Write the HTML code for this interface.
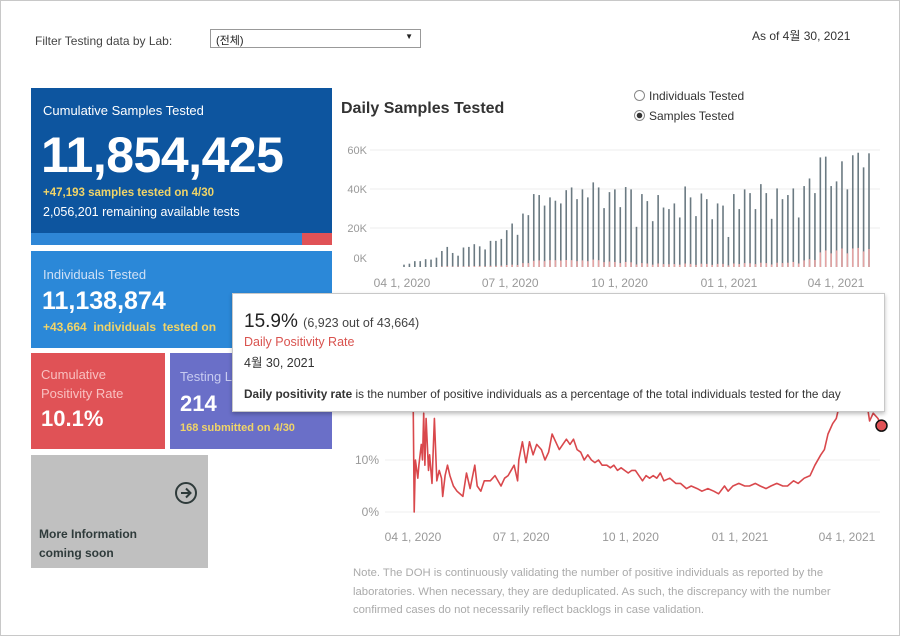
<!DOCTYPE html>
<html><head><meta charset="utf-8">
<style>
*{box-sizing:border-box;margin:0;padding:0}
body{width:900px;height:636px;overflow:hidden;background:#fff;font-family:"Liberation Sans","Noto Sans CJK KR",sans-serif;position:relative}
.abs{position:absolute;white-space:nowrap}
#frame{position:absolute;left:0;top:0;width:900px;height:636px;border:1px solid #c8c8c8}
.card{position:absolute}
</style></head><body>
<div id="frame"></div>

<div class="abs" style="left:35px;top:34px;font-size:12px;color:#444">Filter Testing data by Lab:</div>
<div class="abs" style="left:210px;top:29px;width:211px;height:19px;border:1px solid #999;background:#fff;font-size:11px;color:#222;padding:2px 5px">(전체)<span style="position:absolute;right:7px;top:2px;font-size:8px">▼</span></div>
<div class="abs" style="left:752px;top:27px;font-size:12px;color:#333">As of 4월 30, 2021</div>

<div class="card" style="left:31px;top:88px;width:301px;height:157px;background:#0d559f">
  <div class="abs" style="left:12px;top:15px;font-size:13px;color:#fff">Cumulative Samples Tested</div>
  <div class="abs" style="left:10px;top:38px;font-size:50px;font-weight:bold;color:#fff;letter-spacing:-0.5px">11,854,425</div>
  <div class="abs" style="left:12px;top:99px;font-size:11.5px;font-weight:bold;color:#f0d468">+47,193 samples tested on 4/30</div>
  <div class="abs" style="left:12px;top:117px;font-size:12.5px;color:#fff">2,056,201 remaining available tests</div>
  <div class="abs" style="left:0;top:145px;width:271px;height:12px;background:#2e86d6"></div>
  <div class="abs" style="left:271px;top:145px;width:30px;height:12px;background:#e05256"></div>
</div>

<div class="card" style="left:31px;top:251px;width:301px;height:97px;background:#2b88d8">
  <div class="abs" style="left:12px;top:16px;font-size:13px;color:#cfe0f5">Individuals Tested</div>
  <div class="abs" style="left:11px;top:36px;font-size:25px;font-weight:bold;color:#fff">11,138,874</div>
  <div class="abs" style="left:12px;top:69px;font-size:12px;font-weight:bold;color:#f0d468">+43,664&nbsp; individuals&nbsp; tested on</div>
</div>

<div class="card" style="left:31px;top:353px;width:134px;height:96px;background:#e05256">
  <div class="abs" style="left:10px;top:12px;font-size:13px;color:#f8c0c0;line-height:19px">Cumulative<br>Positivity Rate</div>
  <div class="abs" style="left:10px;top:53px;font-size:22px;font-weight:bold;color:#fff">10.1%</div>
</div>

<div class="card" style="left:170px;top:353px;width:162px;height:96px;background:#6a6fc8">
  <div class="abs" style="left:10px;top:16px;font-size:13px;color:#c8cbf0">Testing Labs</div>
  <div class="abs" style="left:10px;top:38px;font-size:22px;font-weight:bold;color:#fff">214</div>
  <div class="abs" style="left:10px;top:69px;font-size:11px;font-weight:bold;color:#f0d468">168 submitted on 4/30</div>
</div>

<div class="card" style="left:31px;top:455px;width:177px;height:113px;background:#c0c0c0">
  <svg class="abs" style="left:143px;top:26px" width="24" height="24"><circle cx="12" cy="12" r="10" fill="none" stroke="#2f3b3b" stroke-width="2"/><path d="M7 12h9M12 7.5l4.5 4.5-4.5 4.5" fill="none" stroke="#2f3b3b" stroke-width="2"/></svg>
  <div class="abs" style="left:8px;top:70px;font-size:12px;font-weight:bold;color:#2f3b3b;line-height:19px">More Information<br>coming soon</div>
</div>

<div class="abs" style="left:341px;top:100px;font-size:16px;font-weight:bold;color:#333">Daily Samples Tested</div>
<div class="abs" style="left:634px;top:86px;font-size:12px;color:#333;line-height:20px">
  <div><span style="display:inline-block;width:11px;height:11px;border:1px solid #888;border-radius:50%;vertical-align:-1px;margin-right:4px"></span>Individuals Tested</div>
  <div><span style="display:inline-block;width:11px;height:11px;border:1px solid #888;border-radius:50%;vertical-align:-1px;margin-right:4px;background:radial-gradient(circle,#333 2.5px,#fff 3px)"></span>Samples Tested</div>
</div>

<svg id="bars" class="abs" style="left:0;top:0" width="900" height="636"></svg>

<div class="abs" style="left:232px;top:293px;width:653px;height:119px;background:#fff;border:1px solid #c8c8c8;box-shadow:0 2px 4px rgba(0,0,0,.25);overflow:hidden">
  <div class="abs" style="left:11px;top:17px;font-size:19px;color:#222">15.9% <span style="font-size:12.5px;color:#444">(6,923 out of 43,664)</span></div>
  <div class="abs" style="left:11px;top:41px;font-size:12.5px;color:#d9534f">Daily Positivity Rate</div>
  <div class="abs" style="left:11px;top:58px;font-size:12.5px;color:#333">4월 30, 2021</div>
  <div class="abs" style="left:11px;top:93px;font-size:11.8px;color:#333"><b>Daily positivity rate</b> is the number of positive individuals as a percentage of the total individuals tested for the day</div>
</div>

<div class="abs" style="left:353px;top:564px;width:530px;overflow:hidden;font-size:11.3px;color:#aaa;line-height:18.5px">Note. The DOH is continuously validating the number of positive individuals as reported by the<br>laboratories. When necessary, they are deduplicated. As such, the discrepancy with the number<br>confirmed cases do not necessarily reflect backlogs in case validation.</div>

<script>
const samplesK=[1.2,1.7,3,3,4,3.8,4.8,8.2,10.3,7.2,5.8,10,10.3,11.7,10.6,9,13.4,13.4,14.4,18.9,22.3,16.5,27.4,26.6,37.4,36.9,31.5,35.7,34,32.6,39.4,40.8,34.8,39.8,35.7,43.4,40.8,30.2,38.4,39.8,30.7,41,39.8,20.6,37.4,33.8,23.5,36.9,30.5,29.7,32.6,25.4,41.3,35.7,26.1,37.7,34.8,24.5,32.6,31.5,15.4,37.4,29.7,39.8,37.9,29.7,42.5,37.9,24.7,40.3,34.8,36.9,40.3,25.4,41.5,45.4,37.9,56.2,56.6,41.5,43.9,54.2,39.8,57.3,58.6,51.1,58.3];
const positivesK=[0,0,0,0,0,0,0,0.3,0.4,0.3,0.3,0.4,0.4,0.5,0.5,0.4,0.6,0.6,0.7,1,1.2,1,2,2,3.2,3.4,3,3.5,3.5,3.3,3.6,3.5,3,3.4,3,3.8,3.5,2.5,2.8,2.6,2,2.6,2.4,1.3,2,1.8,1.2,1.8,1.5,1.4,1.5,1.2,1.8,1.6,1.1,1.7,1.6,1.1,1.6,1.6,0.8,1.8,1.5,2,1.9,1.5,2.2,2,1.3,2.2,2,2.2,2.6,1.8,3.4,4,3.6,7.5,8.5,7,8.5,9.5,7,9.5,9.8,8,9.2];
const barTicks=[0,20,40,60];
const dateLabels=["04 1, 2020","07 1, 2020","10 1, 2020","01 1, 2021","04 1, 2021"];
const dateLabelDays=[0,91,183,275,365];
const rateDays=[0,1,2,4,5,7,8,9,10,11,13,14,16,18,20,22,24,25,27,29,31,34,37,42,45,48,52,54,57,60,65,69,74,77,80,85,88,89,92,95,98,101,104,108,111,114,117,120,123,126,129,132,135,138,141,144,147,150,153,156,159,163,166,169,172,175,178,181,184,187,190,193,196,199,202,205,208,211,216,221,225,230,234,239,243,248,253,257,262,265,269,274,279,283,288,292,297,301,306,311,315,320,324,329,334,338,343,346,349,353,356,360,364,370,379,384,387,391,394];
const ratePct=[25,0,10,6.5,9,13,10,19,9,18,8,11,5.5,18,6,8,6.5,3,7,9,7,5,4,3,7.5,4.5,9,5,4,6,6,7,5,6.5,7,9,6,10,13.5,9.5,13.5,11,13,12,10,11.5,15,13.5,12,13,14,13,14,12,11.5,10,11,10,9.5,10,9,9,8.5,9,8,8.5,8,7.5,8,8,7,6,7,6.5,7,6.5,7.5,6,6.5,5.5,5.5,4.5,5,4.5,4,4.5,4,3.5,5,4,5,5.5,5,5,5.5,5,4.5,5,5.5,5,5,6,5.5,6.5,7,9,11,12,15,17,18,22,25,25,25,17.5,19,18,16.6];
const rateTicks=[0,10];

const NS="http://www.w3.org/2000/svg";
const svg=document.getElementById('bars');
function mk(tag,attrs,parent){const e=document.createElementNS(NS,tag);for(const k in attrs)e.setAttribute(k,attrs[k]);(parent||svg).appendChild(e);return e;}
const byScale=v=>267-v*(117/60);
const bxScale=i=>404+i*(465/(samplesK.length-1));
const bdScale=d=>402+d*(434/365);
barTicks.forEach(t=>{
  if(t>0){const g=mk('line',{x1:370,x2:880,y1:byScale(t),y2:byScale(t),stroke:'#ececec'});
  
  }
  const tx=mk('text',{x:367,y:byScale(t)+(t===0?-5:4),'text-anchor':'end','font-size':11,fill:'#999','font-family':'Liberation Sans'});
  tx.textContent=t+'K';
  
  
});
samplesK.forEach((v,i)=>{
  const b=mk('rect',{x:bxScale(i)-0.8,y:byScale(v),width:1.6,height:byScale(0)-byScale(v),fill:'#6b7a82'});
  
  
  const p=positivesK[i];
  if(p>0){const r=mk('rect',{x:bxScale(i)-0.8,y:byScale(p),width:1.6,height:byScale(0)-byScale(p),fill:'#e3a3a3'});
  
  }
});
dateLabels.forEach((l,k)=>{
  const tx=mk('text',{x:bdScale(dateLabelDays[k]),y:287,'text-anchor':'middle','font-size':12,fill:'#999','font-family':'Liberation Sans'});
  tx.textContent=l;
  
  
});
const bl=mk('line',{x1:340,x2:880,y1:293.5,y2:293.5,stroke:'#ddd'});


const ryScale=v=>512-v*5.2;
const rxScale=d=>413+d*(434/365);
rateTicks.forEach(t=>{
  const g=mk('line',{x1:385,x2:880,y1:ryScale(t),y2:ryScale(t),stroke:'#efefef'});
  
  
  const tx=mk('text',{x:379,y:ryScale(t)+4,'text-anchor':'end','font-size':12,fill:'#999','font-family':'Liberation Sans'});
  tx.textContent=t+'%';
  
  
});
dateLabels.forEach((l,k)=>{
  const tx=mk('text',{x:rxScale(dateLabelDays[k]),y:541,'text-anchor':'middle','font-size':12,fill:'#999','font-family':'Liberation Sans'});
  tx.textContent=l;
  
  
});
const pts=rateDays.map((d,i)=>rxScale(d).toFixed(1)+','+ryScale(ratePct[i]).toFixed(1)).join(' ');
const pl=mk('polyline',{points:pts,fill:'none',stroke:'#d9484c','stroke-width':1.6,'stroke-linejoin':'round'});


const li=ratePct.length-1;
const dot=mk('circle',{cx:rxScale(rateDays[li]),cy:ryScale(ratePct[li]),r:5.5,fill:'#e05256',stroke:'#111','stroke-width':1.5});


</script>
</body></html>
